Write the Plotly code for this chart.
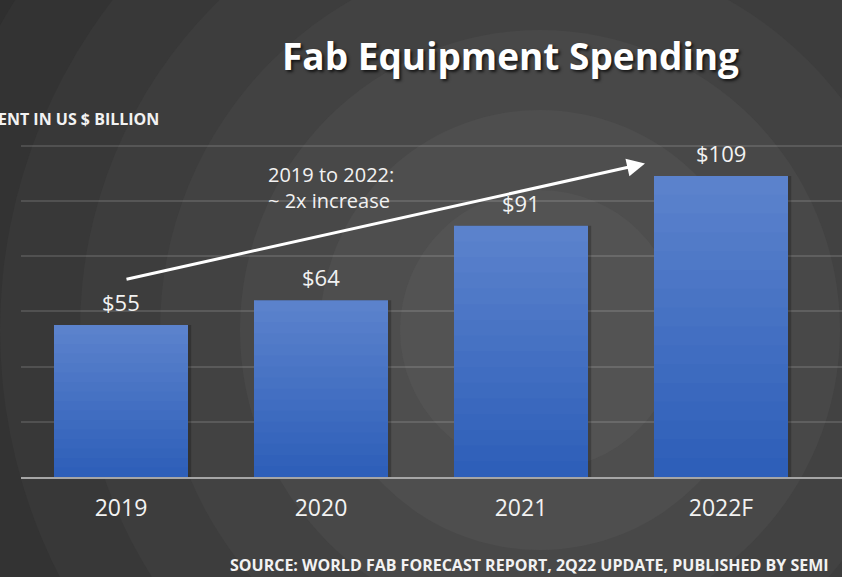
import plotly.graph_objects as go

# ---- data ----
categories = ["2019", "2020", "2021", "2022F"]
values = [55, 64, 91, 109]
value_labels = ["$55", "$64", "$91", "$109"]
y_ticks = [0, 20, 40, 60, 80, 100, 120]

title_text = "Fab Equipment Spending"
y_title = "FAB EQUIPMENT IN US $ BILLION"
source_text = "SOURCE: WORLD FAB FORECAST REPORT, 2Q22 UPDATE, PUBLISHED BY SEMI"
note_text = "2019 to 2022:<br>~ 2x increase"

W, H = 842, 577
ML, MR, MT, MB = 21, 0, 118, 100
PW, PH = W - ML - MR, H - MT - MB


def px_x(p):
    return (p - ML) / PW


def px_y(p):
    return (H - MB - p) / PH


fig = go.Figure()

# soft shadow on the right of the bars
fig.add_trace(go.Bar(
    x=categories, y=values, width=0.67, offset=-0.335 + 0.016,
    marker=dict(color="rgba(0,0,0,0.22)", line=dict(width=0)),
    hoverinfo="skip", showlegend=False,
))

# gradient bars: overlaid, each shorter layer a bit darker (light top -> dark bottom)
N = 16
top_c = (93, 131, 205)
bot_c = (44, 94, 184)
for i in range(N):
    frac = (N - i) / N
    t = (N - i - 0.5) / N
    c = tuple(round(bot_c[k] + (top_c[k] - bot_c[k]) * t) for k in range(3))
    fig.add_trace(go.Bar(
        x=categories,
        y=[v * frac for v in values],
        marker=dict(color="rgb(%d,%d,%d)" % c, line=dict(width=0)),
        width=0.67,
        hoverinfo="skip",
        showlegend=False,
    ))

# background rings
shapes = []
cx, cy = 540, 330
ring_cols = ["#2f2f2f", "#333333", "#383838", "#3d3d3d", "#424242", "#484848", "#4e4e4e", "#535353"]
radii = [700, 620, 540, 460, 380, 300, 220, 140]
for r, col in zip(radii, ring_cols):
    shapes.append(dict(
        type="circle", xref="paper", yref="paper", layer="below",
        x0=px_x(cx - r), x1=px_x(cx + r), y0=px_y(cy + r), y1=px_y(cy - r),
        fillcolor=col, line=dict(width=0),
    ))

annotations = [
    dict(text="<b>" + title_text + "</b>", xref="paper", yref="paper",
         x=px_x(510), y=px_y(56), xanchor="center", yanchor="middle",
         showarrow=False,
         font=dict(family="Open Sans", size=37, color="#ffffff",
                   shadow="2px 2px 3px rgba(0,0,0,0.7)")),
    dict(text="<b>" + y_title + "</b>", xref="paper", yref="paper",
         x=px_x(161), y=px_y(119), xanchor="right", yanchor="middle",
         showarrow=False,
         font=dict(family="Open Sans", size=16, color="#f2f2f2")),
    dict(text="<b>" + source_text + "</b>", xref="paper", yref="paper",
         x=px_x(831), y=px_y(565), xanchor="right", yanchor="middle",
         showarrow=False,
         font=dict(family="Open Sans", size=16, color="#f2f2f2")),
    dict(text=note_text, xref="paper", yref="paper",
         x=px_x(266), y=px_y(187), xanchor="left", yanchor="middle",
         align="left", showarrow=False,
         font=dict(family="Open Sans", size=20, color="#f2f2f2")),
    # growth arrow from 2019 level to 2022 level
    dict(text="", x=2.62, y=113.5, xref="x", yref="y",
         ax=0.02, ay=71.5, axref="x", ayref="y",
         showarrow=True, arrowhead=2, arrowsize=1.2, arrowwidth=3,
         arrowcolor="#ffffff"),
]

# value labels above bars (category index positions)
for i, (v, lab) in enumerate(zip(values, value_labels)):
    annotations.append(dict(
        text=lab, x=i, y=v, xref="x", yref="y",
        xanchor="center", yanchor="bottom", yshift=6, showarrow=False,
        font=dict(family="Open Sans", size=22, color="#f2f2f2"),
    ))

fig.update_layout(
    width=W, height=H,
    margin=dict(l=ML, r=MR, t=MT, b=MB),
    paper_bgcolor="#2b2b2b",
    plot_bgcolor="rgba(0,0,0,0)",
    barmode="overlay",
    shapes=shapes,
    annotations=annotations,
    showlegend=False,
    hovermode=False,
    xaxis=dict(
        type="category", range=[-0.5, -0.5 + PW / 200],
        showgrid=False, zeroline=False,
        showline=True, linecolor="#a6a6a6", linewidth=2,
        ticks="", ticklabelstandoff=9,
        tickfont=dict(family="Open Sans", size=23, color="#f2f2f2"),
    ),
    yaxis=dict(
        range=[0, 130], tickvals=y_ticks, showticklabels=False,
        showgrid=True, gridcolor="rgba(255,255,255,0.13)", gridwidth=2,
        zeroline=False, showline=False,
    ),
)

fig.write_html("out.html", config={"displayModeBar": False},
               post_script="document.body.style.margin='0';")
